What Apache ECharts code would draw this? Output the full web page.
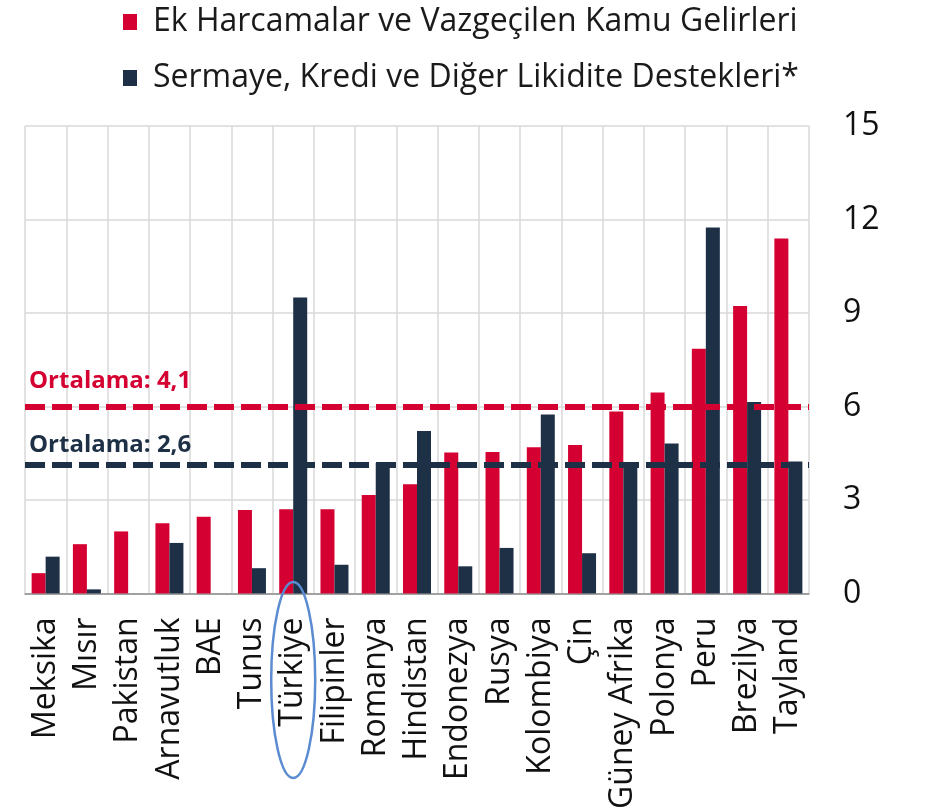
<!DOCTYPE html>
<html>
<head>
<meta charset="utf-8">
<script src="https://cdn.jsdelivr.net/npm/echarts@6/dist/echarts.min.js"></script>
<style>
  html, body { margin: 0; padding: 0; background: #fff; }
  #chart { width: 927px; height: 812px; }
</style>
</head>
<body>
<div id="chart"></div>
<script>
// ülkeler
const categories = ['Meksika', 'Mısır', 'Pakistan', 'Arnavutluk', 'BAE', 'Tunus', 'Türkiye', 'Filipinler',
  'Romanya', 'Hindistan', 'Endonezya', 'Rusya', 'Kolombiya', 'Çin', 'Güney Afrika', 'Polonya', 'Peru',
  'Brezilya', 'Tayland'];

const seriesNames = ['Ek Harcamalar ve Vazgeçilen Kamu Gelirleri', 'Sermaye, Kredi ve Diğer Likidite Destekleri*'];

// Ek harcamalar (% GSYH)
const ekHarcamalar = [0.65, 1.58, 1.99, 2.25, 2.46, 2.68, 2.70, 2.70, 3.16, 3.50, 4.52, 4.54, 4.69, 4.76, 5.84, 6.45, 7.85, 9.22, 11.39];
// likidite destekleri (% GSYH)
const likidite = [1.18, 0.13, null, 1.62, null, 0.81, 9.50, 0.92, 4.19, 5.21, 0.87, 1.46, 5.74, 1.29, 4.07, 4.81, 11.74, 6.14, 4.23];

// ortalama çizgileri
const avgValues = [6.0, 4.13];
const avgLabels = ['Ortalama: 4,1', 'Ortalama: 2,6'];

const yTicks = [0, 3, 6, 9, 12, 15];
const highlight = 'Türkiye';

const RED = '#d50032';
const NAVY = '#1e3046';

const chart = echarts.init(document.getElementById('chart'));

chart.setOption({
  animation: false,
  textStyle: { fontFamily: '"Open Sans", sans-serif' },
  color: [RED, NAVY],
  legend: {
    orient: 'vertical',
    left: 118,
    top: 1,
    itemWidth: 14,
    itemHeight: 16,
    itemGap: 24,
    icon: 'rect',
    textStyle: { fontSize: 32, color: '#1a1a1a', padding: [0, 0, 0, 11] },
    data: seriesNames
  },
  grid: { left: 25, right: 118, top: 126, bottom: 216 },
  xAxis: {
    type: 'category',
    data: categories,
    axisLine: { lineStyle: { color: '#8c8c8c', width: 1.5 } },
    axisTick: { show: false },
    splitLine: { show: true, lineStyle: { color: '#d9d9d9', width: 1.5 } },
    axisLabel: { rotate: 90, fontSize: 32, color: '#111', margin: 24, interval: 0 }
  },
  yAxis: {
    type: 'value',
    position: 'right',
    min: yTicks[0],
    max: yTicks[yTicks.length - 1],
    interval: 3,
    axisLine: { show: false },
    axisTick: { show: false },
    splitLine: { lineStyle: { color: '#d9d9d9', width: 1.5 } },
    axisLabel: { fontSize: 32, color: '#111', margin: 34 }
  },
  series: [
    {
      name: seriesNames[0],
      type: 'bar',
      data: ekHarcamalar,
      barWidth: 14,
      barGap: '0%'
    },
    {
      name: seriesNames[1],
      type: 'bar',
      data: likidite,
      barWidth: 14,
      barGap: '0%',
      markLine: {
        silent: true,
        symbol: 'none',
        data: avgValues.map((v, i) => ({
          yAxis: v,
          lineStyle: { color: i === 0 ? RED : NAVY, width: 6, type: [20, 7] },
          label: {
            show: true,
            formatter: avgLabels[i],
            position: 'insideStartTop',
            distance: [4, i === 0 ? 13 : 8],
            fontSize: 24,
            fontWeight: 'bold',
            color: i === 0 ? RED : NAVY
          }
        }))
      }
    }
  ]
});

// Türkiye etrafındaki elips
const c = chart.convertToPixel({ xAxisIndex: 0 }, highlight);
chart.setOption({
  graphic: [{
    type: 'ellipse',
    z: 100,
    shape: { cx: c, cy: 680, rx: 22, ry: 98 },
    style: { fill: null, stroke: '#5b8bd0', lineWidth: 2.5 }
  }]
});
</script>
</body>
</html>
